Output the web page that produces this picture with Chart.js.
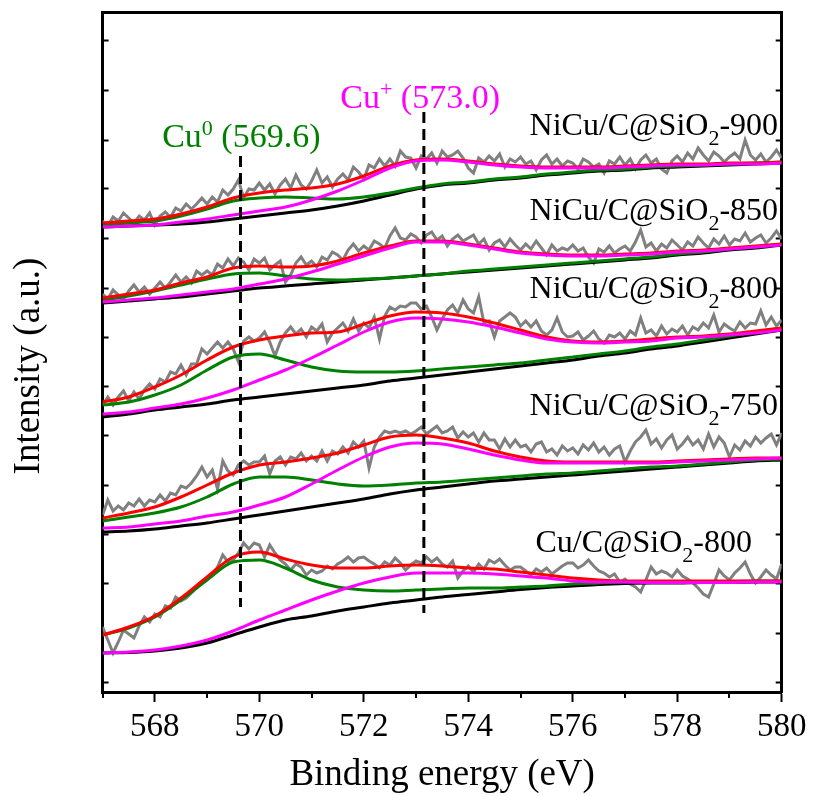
<!DOCTYPE html>
<html>
<head>
<meta charset="utf-8">
<script src="https://cdn.jsdelivr.net/npm/chart.js@4.4.1/dist/chart.umd.min.js"></script>
<style>
  body { margin: 0; background: #fff; }
  canvas { display: block; }
</style>
</head>
<body>
<canvas id="xps" width="813" height="796"></canvas>
<script>
// binding energy grids (eV)
var fitEnergy = [567, 567.5, 568, 568.5, 569, 569.5, 570, 570.5, 571, 571.5, 572, 572.5, 573, 573.5,
                 574, 574.5, 575, 575.5, 576, 576.5, 577, 577.5, 578, 578.5, 579, 579.5, 580];
var rawEnergy = [
  567, 567.1, 567.2, 567.3, 567.4, 567.5, 567.6, 567.7, 567.8, 567.9,
  568, 568.1, 568.2, 568.3, 568.4, 568.5, 568.6, 568.7, 568.8, 568.9,
  569, 569.1, 569.2, 569.3, 569.4, 569.5, 569.6, 569.7, 569.8, 569.9,
  570, 570.1, 570.2, 570.3, 570.4, 570.5, 570.6, 570.7, 570.8, 570.9,
  571, 571.1, 571.2, 571.3, 571.4, 571.5, 571.6, 571.7, 571.8, 571.9,
  572, 572.1, 572.2, 572.3, 572.4, 572.5, 572.6, 572.7, 572.8, 572.9,
  573, 573.1, 573.2, 573.3, 573.4, 573.5, 573.6, 573.7, 573.8, 573.9,
  574, 574.1, 574.2, 574.3, 574.4, 574.5, 574.6, 574.7, 574.8, 574.9,
  575, 575.1, 575.2, 575.3, 575.4, 575.5, 575.6, 575.7, 575.8, 575.9,
  576, 576.1, 576.2, 576.3, 576.4, 576.5, 576.6, 576.7, 576.8, 576.9,
  577, 577.1, 577.2, 577.3, 577.4, 577.5, 577.6, 577.7, 577.8, 577.9,
  578, 578.1, 578.2, 578.3, 578.4, 578.5, 578.6, 578.7, 578.8, 578.9,
  579, 579.1, 579.2, 579.3, 579.4, 579.5, 579.6, 579.7, 579.8, 579.9,
  580];

var xTickValues = [568, 570, 572, 574, 576, 578, 580];
var xTickLabels = ['568', '570', '572', '574', '576', '578', '580'];
var xMinorValues = [567, 569, 571, 573, 575, 577, 579];
var yTickValues = [10, 59, 109, 158, 207, 257, 306, 355, 404, 454, 503, 552, 602, 651];

// NiCu/C@SiO2-900 (curves are offset vertically, arbitrary units)
var raw900 = [
  471, 466, 475, 471, 479, 474, 469, 476, 472, 479,
  467, 476, 480, 475, 484, 481, 488, 483, 488, 494,
  488, 495, 490, 502, 497, 503, 512, 494, 503, 502,
  509, 502, 508, 498, 507, 513, 504, 517, 507, 503,
  511, 522, 509, 515, 505, 513, 518, 512, 525, 520,
  513, 527, 524, 533, 526, 533, 526, 541, 535, 534,
  524, 536, 533, 539, 529, 541, 535, 537, 541, 534,
  524, 519, 534, 530, 536, 531, 538, 525, 533, 530,
  535, 528, 531, 522, 532, 537, 528, 533, 526, 531,
  529, 523, 533, 530, 525, 528, 519, 531, 528, 535,
  527, 533, 523, 532, 537, 529, 533, 523, 519, 531,
  536, 530, 539, 533, 544, 537, 531, 540, 536, 530,
  535, 539, 533, 552, 537, 532, 538, 530, 535, 542,
  534];
var bg900 = [465, 466, 467, 468, 470, 473, 476, 479, 482, 486, 491, 497, 503, 507, 509, 512, 514, 517, 519, 521, 522, 524, 525, 526, 527, 528, 529];
var cu0_900 = [467, 469, 471, 476, 483, 491, 494, 495, 494, 493, 495, 499, 504, 508, 510, 513, 515, 518, 520, 522, 523, 525, 526, 527, 528, 529, 530];
var cup900 = [465, 466, 467, 470, 473, 477, 481, 485, 492, 501, 512, 524, 531, 532, 530, 527, 525, 524, 524, 524, 525, 526, 527, 527, 528, 528, 529];
var env900 = [469, 471, 473, 478, 485, 494, 499, 502, 504, 508, 516, 526, 532, 533, 531, 528, 526, 525, 525, 525, 526, 527, 528, 528, 529, 529, 530];

// NiCu/C@SiO2-850
var raw850 = [
  398, 393, 402, 397, 393, 401, 407, 400, 405, 398,
  404, 410, 404, 410, 417, 410, 415, 409, 421, 417,
  421, 417, 428, 424, 433, 426, 434, 430, 422, 433,
  429, 434, 422, 427, 431, 410, 417, 429, 435, 427,
  431, 425, 435, 432, 440, 437, 432, 442, 448, 441,
  446, 442, 451, 448, 444, 456, 464, 454, 452, 458,
  455, 449, 457, 460, 452, 456, 446, 453, 457, 451,
  454, 457, 448, 453, 442, 449, 452, 445, 453, 447,
  442, 448, 443, 451, 444, 437, 447, 441, 444, 442,
  447, 441, 444, 435, 429, 443, 440, 446, 439, 443,
  446, 441, 450, 462, 445, 449, 441, 448, 444, 452,
  447, 442, 450, 446, 455, 449, 444, 453, 448, 456,
  447, 453, 451, 459, 450, 454, 457, 449, 454, 461,
  453];
var bg850 = [389, 391, 393, 395, 398, 401, 404, 406, 408, 410, 412, 414, 416, 418, 420, 422, 424, 426, 428, 430, 432, 434, 437, 439, 442, 444, 447];
var cu0_850 = [392, 396, 401, 407, 413, 418, 419, 416, 413, 412, 413, 414, 416, 418, 421, 423, 425, 427, 429, 431, 433, 435, 438, 440, 443, 445, 448];
var cup850 = [390, 392, 394, 397, 400, 403, 408, 413, 420, 428, 436, 444, 450, 450, 447, 443, 439, 437, 436, 436, 437, 438, 440, 441, 443, 445, 447];
var env850 = [394, 398, 402, 409, 415, 424, 426, 425, 426, 431, 439, 446, 451, 451, 448, 444, 440, 438, 437, 437, 438, 439, 441, 442, 444, 446, 448];

// NiCu/C@SiO2-800
var raw800 = [
  287, 295, 287, 295, 301, 291, 300, 293, 302, 308,
  303, 313, 310, 320, 318, 327, 317, 328, 328, 343,
  338, 344, 350, 344, 350, 343, 330, 351, 355, 351,
  354, 360, 350, 336, 350, 359, 365, 358, 363, 355,
  365, 361, 368, 350, 359, 364, 369, 361, 373, 361,
  369, 364, 375, 353, 376, 385, 382, 386, 385, 389,
  389, 383, 386, 375, 362, 373, 382, 387, 379, 392,
  383, 379, 395, 369, 371, 355, 371, 375, 379, 375,
  366, 371, 365, 371, 361, 357, 362, 374, 360, 355,
  356, 360, 352, 356, 361, 353, 349, 357, 355, 359,
  353, 361, 357, 374, 359, 362, 356, 366, 358, 363,
  360, 366, 357, 365, 362, 369, 364, 377, 360, 368,
  364, 361, 370, 364, 369, 368, 381, 367, 375, 366,
  372];
var bg800 = [275, 278, 282, 285, 288, 292, 295, 298, 301, 304, 307, 311, 314, 317, 320, 323, 326, 329, 332, 336, 339, 343, 346, 350, 354, 358, 362];
var cu0_800 = [287, 290, 297, 307, 322, 335, 338, 332, 325, 321, 320, 320, 321, 323, 325, 327, 329, 332, 335, 338, 341, 345, 348, 352, 356, 360, 364];
var cup800 = [278, 280, 284, 288, 294, 302, 312, 322, 334, 347, 360, 370, 374, 373, 370, 365, 359, 353, 350, 349, 350, 351, 354, 355, 357, 359, 362];
var env800 = [290, 295, 305, 317, 332, 345, 352, 356, 359, 360, 368, 376, 380, 379, 375, 369, 362, 355, 351, 350, 351, 353, 355, 356, 358, 361, 364];

// NiCu/C@SiO2-750
var raw750 = [
  177, 192, 181, 186, 182, 189, 186, 193, 186, 192,
  190, 197, 191, 199, 197, 206, 204, 209, 216, 225,
  215, 222, 203, 231, 221, 217, 227, 231, 227, 230,
  230, 236, 218, 231, 235, 227, 235, 233, 239, 231,
  236, 231, 241, 231, 241, 238, 245, 239, 250, 245,
  251, 224, 245, 255, 261, 259, 261, 259, 261, 258,
  261, 265, 258, 262, 266, 259, 261, 265, 254, 260,
  255, 259, 250, 259, 252, 252, 243, 253, 245, 252,
  245, 247, 240, 248, 250, 240, 243, 237, 246, 241,
  244, 238, 247, 242, 249, 240, 245, 237, 243, 246,
  230, 241, 250, 255, 262, 248, 253, 244, 252, 257,
  243, 248, 255, 247, 252, 243, 258, 245, 255, 249,
  235, 247, 242, 251, 246, 255, 249, 254, 258, 247,
  259];
var bg750 = [160, 161, 163, 166, 169, 173, 177, 181, 185, 189, 193, 198, 202, 205, 208, 211, 213, 215, 217, 219, 221, 223, 225, 227, 229, 231, 232];
var cu0_750 = [171, 175, 179, 185, 195, 208, 215, 215, 212, 208, 206, 207, 209, 210, 212, 214, 216, 218, 219, 221, 223, 225, 226, 228, 230, 232, 233];
var cup750 = [164, 165, 168, 171, 176, 180, 187, 195, 208, 222, 235, 245, 249, 248, 243, 237, 232, 229, 229, 229, 229, 229, 230, 231, 232, 233, 234];
var env750 = [174, 179, 185, 195, 207, 219, 227, 230, 234, 239, 247, 255, 257, 254, 249, 241, 235, 231, 230, 230, 230, 230, 231, 232, 233, 234, 234];

// Cu/C@SiO2-800
var rawCu = [
  65, 52, 39, 50, 62, 58, 54, 66, 75, 70,
  78, 75, 86, 84, 95, 91, 94, 99, 104, 109,
  113, 117, 125, 137, 130, 132, 139, 149, 143, 149,
  147, 135, 147, 139, 132, 128, 122, 128, 125, 117,
  122, 119, 121, 126, 123, 128, 131, 135, 130, 134,
  135, 131, 128, 124, 130, 127, 134, 129, 122, 127,
  131, 129, 135, 130, 134, 128, 125, 131, 114, 121,
  126, 120, 128, 123, 132, 129, 133, 127, 122, 125,
  125, 121, 117, 123, 120, 124, 118, 122, 126, 129,
  129, 124, 127, 132, 126, 121, 119, 115, 118, 110,
  113, 108, 105, 100, 112, 125, 118, 121, 119, 115,
  122, 116, 113, 109, 104, 98, 95, 108, 122, 116,
  112, 119, 124, 130, 118, 109, 115, 122, 117, 113,
  128];
var bgCu = [39, 39.5, 41, 44, 49, 57, 65, 72, 76, 81, 85, 89, 92, 95, 97.5, 100, 102.5, 104.5, 106, 107.5, 108.5, 109, 109, 109.5, 109.5, 110, 110];
var cu0Cu = [57, 64, 75, 92, 112, 130, 132, 124, 112, 105, 102, 101, 102, 103, 104, 104, 105, 106, 108, 109, 110, 110, 110, 110.5, 110.5, 111, 111];
var cupCu = [39, 40, 42, 46, 52, 61, 72, 82, 92, 101, 109, 115, 119, 119, 119, 118, 116, 114, 111, 110, 110, 109.5, 109.5, 109.5, 109.5, 110, 110];
var envCu = [57, 65, 76, 94, 115, 135, 140, 133, 127, 124, 124, 126, 127, 126, 124, 123, 120, 117, 114, 112, 111, 111, 111, 111, 111, 111, 111];

// peak position markers
var peakEnergy = [569.64, 573.15];
var peakLineTop = [536, 580];
var peakLineBottom = [85, 79];

var sampleNames = [
  ['NiCu/C@SiO', '2', '-900'],
  ['NiCu/C@SiO', '2', '-850'],
  ['NiCu/C@SiO', '2', '-800'],
  ['NiCu/C@SiO', '2', '-750'],
  ['Cu/C@SiO', '2', '-800']
];
var peakNames = [
  ['Cu', '0', ' (569.6)'],
  ['Cu', '+', ' (573.0)']
];

// where the texts sit, in axis units
var sampleLabelAt = [[579.93, 557], [579.93, 472], [579.93, 394], [579.93, 277], [579.43, 140]];
var peakLabelAt = [[568.14, 545], [571.55, 584]];

var FONT = "'Liberation Serif', 'Times New Roman', serif";
var GRAY = '#808080', GREEN = '#008000', RED = '#ff0000', PINK = '#ff00ff';

function pts(xs, ys) {
  return xs.map(function(x, i) { return {x: x, y: ys[i]}; });
}

var spectra = [
  [raw900, bg900, cu0_900, cup900, env900],
  [raw850, bg850, cu0_850, cup850, env850],
  [raw800, bg800, cu0_800, cup800, env800],
  [raw750, bg750, cu0_750, cup750, env750],
  [rawCu, bgCu, cu0Cu, cupCu, envCu]
];

var datasets = [];
spectra.forEach(function(s) {
  datasets.push({data: pts(rawEnergy, s[0]), borderColor: GRAY, borderWidth: 3, tension: 0, order: 5});
  datasets.push({data: pts(fitEnergy, s[1]), borderColor: '#000', borderWidth: 3, cubicInterpolationMode: 'monotone', order: 4});
  datasets.push({data: pts(fitEnergy, s[2]), borderColor: GREEN, borderWidth: 3, cubicInterpolationMode: 'monotone', order: 3});
  datasets.push({data: pts(fitEnergy, s[4]), borderColor: RED, borderWidth: 3, cubicInterpolationMode: 'monotone', order: 2});
  datasets.push({data: pts(fitEnergy, s[3]), borderColor: PINK, borderWidth: 3, cubicInterpolationMode: 'monotone', order: 1});
});
peakEnergy.forEach(function(e, i) {
  datasets.push({
    data: [{x: e, y: peakLineTop[i]}, {x: e, y: peakLineBottom[i]}],
    borderColor: '#000', borderWidth: 3, borderDash: [11, 6], order: 0
  });
});

function drawRich(ctx, pieces, x, y, align, color, size, smallSize, shift) {
  var big = size + 'px ' + FONT, small = smallSize + 'px ' + FONT;
  ctx.font = big;
  var w0 = ctx.measureText(pieces[0]).width, w2 = ctx.measureText(pieces[2]).width;
  ctx.font = small;
  var w1 = ctx.measureText(pieces[1]).width;
  var sx = align === 'right' ? x - (w0 + w1 + w2) : x;
  ctx.fillStyle = color;
  ctx.textAlign = 'left';
  ctx.textBaseline = 'alphabetic';
  ctx.font = big;
  ctx.fillText(pieces[0], sx, y);
  ctx.font = small;
  ctx.fillText(pieces[1], sx + w0, y + shift);
  ctx.font = big;
  ctx.fillText(pieces[2], sx + w0 + w1, y);
}

var decorations = {
  id: 'decorations',
  afterDraw: function(chart) {
    var ctx = chart.ctx, xs = chart.scales.x, ys = chart.scales.y, area = chart.chartArea;
    ctx.save();
    // minor ticks on the energy axis
    ctx.strokeStyle = '#000';
    ctx.lineWidth = 2;
    xMinorValues.forEach(function(v) {
      var px = Math.round(xs.getPixelForValue(v));
      ctx.beginPath();
      ctx.moveTo(px, area.bottom);
      ctx.lineTo(px, area.bottom + 6);
      ctx.stroke();
    });
    // sample names
    sampleNames.forEach(function(n, i) {
      drawRich(ctx, n, xs.getPixelForValue(sampleLabelAt[i][0]), ys.getPixelForValue(sampleLabelAt[i][1]),
               'right', '#000', 32, 22, 10);
    });
    // peak names
    var peakColors = [GREEN, PINK];
    peakNames.forEach(function(n, i) {
      drawRich(ctx, n, xs.getPixelForValue(peakLabelAt[i][0]), ys.getPixelForValue(peakLabelAt[i][1]),
               'left', peakColors[i], 34, 22, -12);
    });
    // y axis title
    ctx.translate(29.5, 366);
    ctx.rotate(-Math.PI / 2);
    ctx.font = '37px ' + FONT;
    ctx.fillStyle = '#000';
    ctx.textAlign = 'center';
    ctx.textBaseline = 'middle';
    ctx.fillText('Intensity (a.u.)', 0, 0);
    ctx.restore();
  }
};

var hiddenGrid = {drawOnChartArea: false, drawTicks: false};

new Chart(document.getElementById('xps'), {
  type: 'line',
  data: {datasets: datasets},
  plugins: [decorations],
  options: {
    responsive: false,
    animation: false,
    devicePixelRatio: 1,
    layout: {padding: 0},
    elements: {point: {radius: 0}, line: {fill: false}},
    plugins: {legend: {display: false}, tooltip: {enabled: false}},
    scales: {
      x: {
        type: 'linear', position: 'bottom', min: 567, max: 580,
        afterBuildTicks: function(s) { s.ticks = xTickValues.map(function(v) { return {value: v}; }); },
        afterFit: function(s) { s.height = 104; },
        ticks: {
          color: '#000', padding: 6, maxRotation: 0, autoSkip: false,
          font: {family: FONT, size: 33},
          callback: function(v, i) { return xTickLabels[i]; }
        },
        grid: {drawOnChartArea: false, drawTicks: true, tickLength: 10, tickWidth: 2, tickColor: '#000'},
        border: {display: true, width: 3, color: '#000'},
        title: {display: true, text: 'Binding energy (eV)', color: '#000',
                font: {family: FONT, size: 37, lineHeight: 1.1}, padding: {top: 0, bottom: 0}}
      },
      x2: {
        type: 'linear', position: 'top', min: 567, max: 580,
        afterFit: function(s) { s.height = 12; },
        ticks: {display: false},
        grid: hiddenGrid,
        border: {display: true, width: 3, color: '#000'}
      },
      y: {
        type: 'linear', position: 'left', min: 0, max: 680,
        afterBuildTicks: function(s) { s.ticks = yTickValues.map(function(v) { return {value: v}; }); },
        afterFit: function(s) { s.width = 102.6; },
        ticks: {display: false},
        grid: {drawOnChartArea: false, drawTicks: true, tickLength: -6, tickWidth: 2, tickColor: '#000'},
        border: {display: true, width: 3, color: '#000'}
      },
      y2: {
        type: 'linear', position: 'right', min: 0, max: 680,
        afterBuildTicks: function(s) { s.ticks = yTickValues.map(function(v) { return {value: v}; }); },
        afterFit: function(s) { s.width = 31.3; },
        ticks: {display: false},
        grid: {drawOnChartArea: false, drawTicks: true, tickLength: -6, tickWidth: 2, tickColor: '#000'},
        border: {display: true, width: 3, color: '#000'}
      }
    }
  }
});
</script>
</body>
</html>
